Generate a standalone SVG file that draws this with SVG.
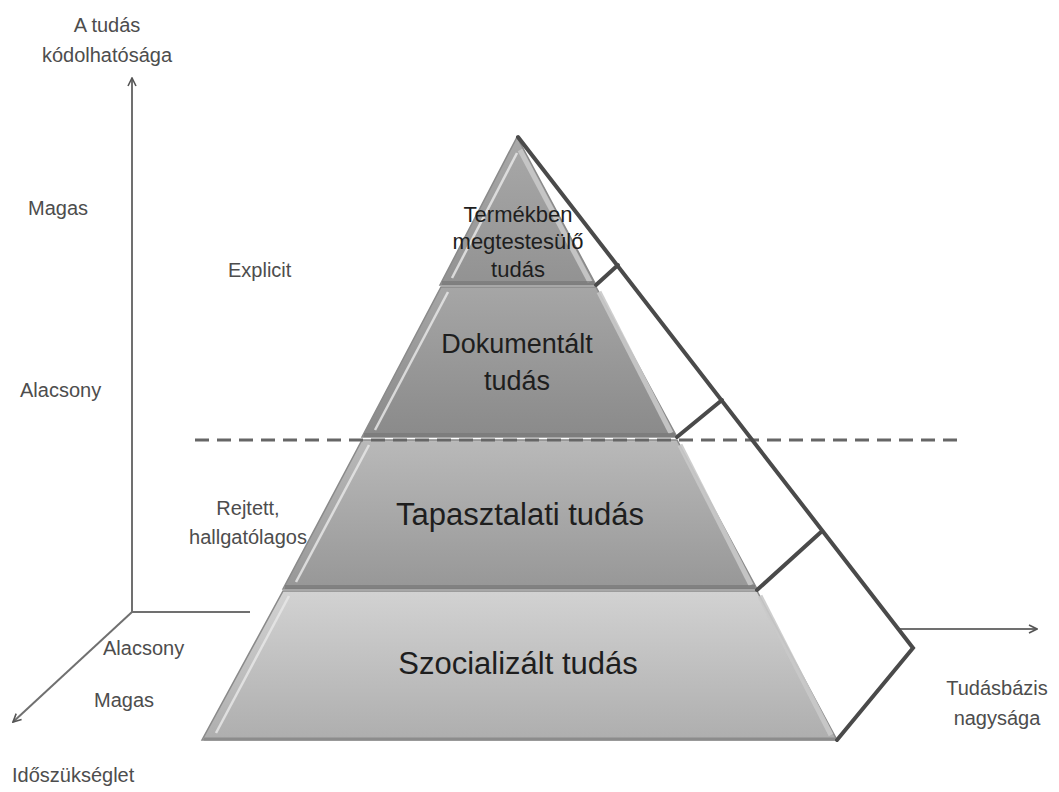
<svg xmlns="http://www.w3.org/2000/svg" width="1059" height="792" viewBox="0 0 1059 792">
<defs>
<style>
.lbl{font-family:"Liberation Sans",Arial,sans-serif;font-size:20px;fill:#4d4d4d}
.lc{text-anchor:middle}
.pt{font-family:"Liberation Sans",Arial,sans-serif;fill:#1e1e1e;text-anchor:middle}
.axis{stroke:#707070;stroke-width:2;fill:none}
.thick{stroke:#4a4a4a;stroke-width:4;fill:none;stroke-linejoin:miter;stroke-linecap:round}
.edge{stroke:#8a8a8a;stroke-width:1.5}
.hl{stroke:#e6e6e6;stroke-width:2.5;fill:none;opacity:0.85}
.hr{stroke:#c9c9c9;stroke-width:5;fill:none;opacity:0.9}
.sh{stroke:#777;stroke-width:4;fill:none;opacity:0.7}
</style>
<linearGradient id="g1" x1="0" y1="0" x2="0" y2="1"><stop offset="0" stop-color="#a9a9a9"/><stop offset="1" stop-color="#929292"/></linearGradient>
<linearGradient id="g2" x1="0" y1="0" x2="0" y2="1"><stop offset="0" stop-color="#a6a6a6"/><stop offset="1" stop-color="#8a8a8a"/></linearGradient>
<linearGradient id="g3" x1="0" y1="0" x2="0" y2="1"><stop offset="0" stop-color="#b9b9b9"/><stop offset="1" stop-color="#979797"/></linearGradient>
<linearGradient id="g4" x1="0" y1="0" x2="0" y2="1"><stop offset="0" stop-color="#d2d2d2"/><stop offset="1" stop-color="#aeaeae"/></linearGradient>
<marker id="arr" viewBox="0 0 10 10" refX="9" refY="5" markerWidth="10" markerHeight="10" markerUnits="userSpaceOnUse" orient="auto">
<path d="M1,1 L9,5 L1,9" fill="none" stroke="#555" stroke-width="1.6"/>
</marker>
</defs>
<rect width="1059" height="792" fill="#ffffff"/>

<g id="layer-termekben">
<polygon points="517,137 440,285 596,285" fill="url(#g1)" class="edge"/>
<polyline points="452,278 517,153" class="hl"/>
<polyline points="520,150 590,282" class="hr"/>
<line x1="442" y1="283" x2="594" y2="283" class="sh"/>
<text class="pt" font-size="22" x="518" y="222">Termékben</text>
<text class="pt" font-size="22" x="518" y="249">megtestesülő</text>
<text class="pt" font-size="22" x="518" y="277">tudás</text>
</g>

<g id="layer-dokumentalt">
<polygon points="441,287 596,287 677,437 362,437" fill="url(#g2)" class="edge"/>
<polyline points="375,430 448,292" class="hl"/>
<polyline points="599,292 671,433" class="hr"/>
<line x1="364" y1="435" x2="675" y2="435" class="sh"/>
<text class="pt" font-size="27" x="517" y="353">Dokumentált</text>
<text class="pt" font-size="27" x="517" y="390">tudás</text>
</g>

<g id="layer-tapasztalati">
<polygon points="362,440 677,440 757,589 283,589" fill="url(#g3)" class="edge"/>
<polyline points="296,582 369,445" class="hl"/>
<polyline points="680,445 751,585" class="hr"/>
<line x1="285" y1="587" x2="755" y2="587" class="sh"/>
<text class="pt" font-size="31" x="520" y="525">Tapasztalati tudás</text>
</g>

<g id="layer-szocializalt">
<polygon points="283,591 757,591 837,740 202,740" fill="url(#g4)" class="edge"/>
<polyline points="216,733 289,596" class="hl"/>
<polyline points="760,596 831,735" class="hr"/>
<line x1="204" y1="739" x2="835" y2="739" stroke="#8c8c8c" stroke-width="3"/>
<text class="pt" font-size="31" x="518" y="674">Szocializált tudás</text>
</g>

<g id="connectors">
<line x1="195" y1="440" x2="960" y2="440" stroke="#666" stroke-width="3" stroke-dasharray="14 8"/>
<line x1="132" y1="612" x2="132" y2="78" class="axis" marker-end="url(#arr)"/>
<line x1="132" y1="612" x2="250" y2="612" class="axis" stroke-width="1.5"/>
<line x1="132" y1="612" x2="13" y2="722" class="axis" marker-end="url(#arr)"/>
<line x1="900" y1="629" x2="1037" y2="629" class="axis" marker-end="url(#arr)"/>
<polyline points="518,137 913,648 837,740" class="thick"/>
<line x1="596" y1="285" x2="618" y2="265" class="thick" stroke-width="3.5"/>
<line x1="677" y1="437" x2="722" y2="400" class="thick" stroke-width="3.5"/>
<line x1="757" y1="590" x2="821" y2="532" class="thick" stroke-width="3.5"/>
</g>

<g id="label-y-axis">
<text class="lbl lc" font-size="21" x="107" y="32">A tudás</text>
<text class="lbl lc" font-size="21" x="107" y="62">kódolhatósága</text>
</g>
<g id="label-magas-top"><text class="lbl" x="28" y="215">Magas</text></g>
<g id="label-explicit"><text class="lbl" x="228" y="277">Explicit</text></g>
<g id="label-alacsony-left"><text class="lbl" x="20" y="397">Alacsony</text></g>
<g id="label-rejtett">
<text class="lbl lc" x="248" y="515">Rejtett,</text>
<text class="lbl lc" x="248" y="544">hallgatólagos</text>
</g>
<g id="label-alacsony-bottom"><text class="lbl" x="103" y="655">Alacsony</text></g>
<g id="label-magas-bottom"><text class="lbl" x="94" y="707">Magas</text></g>
<g id="label-idoszukseglet"><text class="lbl" x="12" y="782">Időszükséglet</text></g>
<g id="label-x-axis">
<text class="lbl lc" x="997" y="695">Tudásbázis</text>
<text class="lbl lc" x="997" y="725">nagysága</text>
</g>
</svg>
